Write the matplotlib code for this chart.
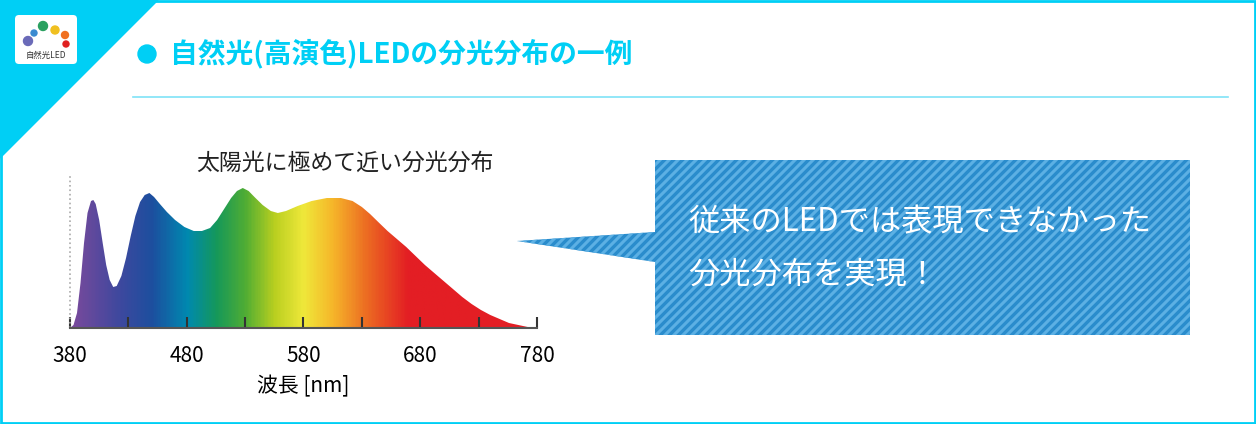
import numpy as np
import matplotlib
matplotlib.use("Agg")
import matplotlib.pyplot as plt
from matplotlib.colors import LinearSegmentedColormap
from matplotlib.patches import Polygon, FancyBboxPatch, Rectangle, Circle

plt.rcParams['font.family'] = ['Noto Sans CJK JP', 'DejaVu Sans']

wavelength = [380,383,386,389,392,395,398,400,402,405,408,411,414,417,420,424,428,432,436,440,444,448,452,457,463,470,478,486,493,500,506,512,518,523,528,533,538,545,552,558,565,575,587,600,612,622,630,637,644,652,660,668,676,684,692,700,708,716,724,732,740,748,756,764,772,777]
intensity = [0,3,15,45,85,115,127,128,124,108,85,63,48,41,42,52,70,92,112,126,133,135,131,124,116,108,101,97,97,100,108,119,130,137,140,137,131,123,117,115,117,122,127,130,130,127,121,114,106,97,89,81,72,63,55,47,39,31,24,18,13,9,5,3,1,0]
tick_labels = ['380','480','580','680','780']
minor_ticks = [430,480,530,580,630,680,730,780]

W, H = 1256, 424
fig = plt.figure(figsize=(W/100, H/100), dpi=100)
bg = fig.add_axes([0, 0, 1, 1])
bg.set_xlim(0, W); bg.set_ylim(H, 0); bg.axis('off')

cyan = '#00cff5'
bg.add_patch(Polygon([[0,0],[158,0],[0,158]], color=cyan, zorder=1))
bg.add_patch(Rectangle((1,1), W-2, H-2, fill=False, ec=cyan, lw=2, zorder=5))
bg.add_patch(FancyBboxPatch((15,15), 62, 49, boxstyle='round,pad=0,rounding_size=4', fc='white', ec='none', zorder=2))
for (x,y,r,c) in [(28,41,4.5,'#6a6ab8'),(34,33,3,'#3a8ad0'),(43,26,4.5,'#2aa060'),(55,30,4,'#f0c020'),(65,35,3.5,'#f07020'),(66,44,3,'#e02020')]:
    bg.add_patch(Circle((x,y), r, color=c, zorder=3))
bg.text(46, 55, '自然光LED', fontsize=6, ha='center', va='center', color='#333', zorder=3)

bg.add_patch(Circle((147,54), 9, color=cyan, zorder=3))
bg.text(170, 54, '自然光(高演色)LEDの分光分布の一例', fontsize=20, color=cyan, va='center', ha='left', fontweight='bold')
bg.plot([133,1228],[97,97], color='#7fe3f7', lw=1.2)

# callout
bx0, by0, bx1, by1 = 655, 160, 1190, 335
blue, stripe = '#2a8ccc', '#5cb0e4'
shape = Polygon([[517,241],[655,232],[655,160],[1190,160],[1190,335],[655,335],[655,262]], fc=blue, ec='none', zorder=2)
bg.add_patch(shape)
for k in range(-200, 900, 9):
    ln, = bg.plot([500+k, 700+k], [340, 140], color=stripe, lw=2.2, zorder=3)
    ln.set_clip_path(shape)
bg.text(688, 222, '従来のLEDでは表現できなかった', fontsize=22.5, color='white', va='center', zorder=4)
bg.text(688, 275, '分光分布を実現！', fontsize=22.5, color='white', va='center', zorder=4)

bg.text(345, 163, '太陽光に極めて近い分光分布', fontsize=16.5, color='#222', ha='center', va='center')

# spectrum axes
x0, x1 = 70, 537
ybase, ytop = 328, 175
ax = fig.add_axes([x0/W, (H-ybase)/H, (x1-x0)/W, (ybase-ytop)/H])
ax.set_xlim(380, 780); ax.set_ylim(0, ybase-ytop)
ax.patch.set_alpha(0)
cols = [(0,'#7b4a9c'),(40,'#40489e'),(70,'#1c4f9f'),(100,'#0089b0'),(125,'#15985a'),(150,'#50ad34'),(175,'#b9cf20'),(200,'#efe83a'),(225,'#f6b72a'),(255,'#ec6a22'),(290,'#e31e24'),(400,'#e31e24')]
cmap = LinearSegmentedColormap.from_list('sp', [(p/400, c) for p, c in cols])
grad = np.linspace(0, 1, 400)[None, :]
im = ax.imshow(grad, cmap=cmap, extent=[380,780,0,160], aspect='auto', zorder=1)
poly = Polygon(np.column_stack([wavelength, intensity]), transform=ax.transData, fc='none', ec='none')
ax.add_patch(poly)
im.set_clip_path(poly)
for s in ['top','right','left']:
    ax.spines[s].set_visible(False)
ax.spines['bottom'].set_color('#555'); ax.spines['bottom'].set_linewidth(1.5)
ax.plot([380,380],[0,153], color='#aaa', lw=1.2, ls=':', clip_on=False)
ax.set_xticks(minor_ticks, minor=True)
ax.set_xticks([380,480,580,680,780]); ax.set_xticklabels(tick_labels)
ax.tick_params(axis='x', which='both', direction='in', length=8, width=1.5, color='#333', labelsize=15, pad=12)
ax.set_yticks([])
ax.set_xlabel('波長 [nm]', fontsize=15, labelpad=6)

fig.savefig('out.png', dpi=100)
